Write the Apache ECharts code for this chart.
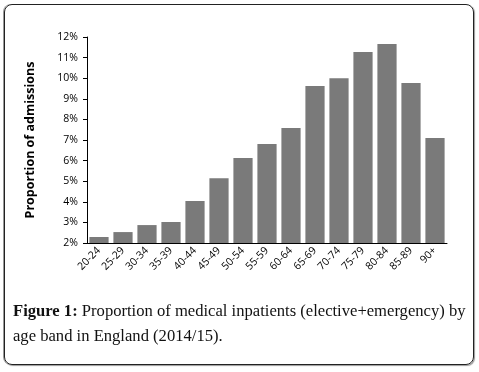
<!DOCTYPE html>
<html>
<head>
<meta charset="utf-8">
<script src="https://cdn.jsdelivr.net/npm/echarts@6/dist/echarts.min.js"></script>
<style>
    html, body { margin: 0; padding: 0; background: #fff; }
    #frame {
        position: absolute; left: 4px; top: 4px; width: 468px; height: 359px;
        border: 1px solid #222; border-radius: 8px;
        box-shadow: -1px 0 0 #999, 1px 1px 1px #999;
    }
    #mainChart { position: absolute; left: 0; top: 0; width: 479px; height: 372px; }
    #caption {
        position: absolute; left: 13px; top: 298px; width: 462px;
        font-family: "Liberation Serif", serif; font-size: 16.6px; line-height: 25px; color: #111;
    }
</style>
</head>
<body>
<div id="frame"></div>
<div id="mainChart"></div>
<div id="caption"><b>Figure 1:</b> Proportion of medical inpatients (elective+emergency) by age band in England (2014/15).</div>
<script>
// 年龄段
var ageBands = ['20-24', '25-29', '30-34', '35-39', '40-44', '45-49', '50-54', '55-59',
    '60-64', '65-69', '70-74', '75-79', '80-84', '85-89', '90+'];
// 占比 (%)
var admissionPct = [2.29, 2.53, 2.87, 3.02, 4.04, 5.14, 6.13, 6.80, 7.58, 9.62, 10.00, 11.27, 11.66, 9.77, 7.10];
var yTicks = [2, 3, 4, 5, 6, 7, 8, 9, 10, 11, 12];

var chartMain = echarts.init(document.getElementById('mainChart'));
var optionMain = {
    animation: false,
    grid: { left: 87, right: 32, top: 37, bottom: 129 },
    xAxis: {
        type: 'category',
        data: ageBands,
        axisLine: { lineStyle: { color: '#000', width: 1 } },
        axisTick: { show: false },
        axisLabel: {
            rotate: 45, interval: 0, margin: 6,
            fontFamily: 'Open Sans', fontSize: 10.5, color: '#000'
        }
    },
    yAxis: {
        type: 'value',
        min: yTicks[0],
        max: yTicks[yTicks.length - 1],
        interval: 1,
        name: 'Proportion of admissions',
        nameLocation: 'middle',
        nameGap: 50,
        nameTextStyle: { fontFamily: 'Open Sans', fontWeight: 'bold', fontSize: 12.5, color: '#000' },
        axisLine: { show: true, lineStyle: { color: '#000', width: 1 } },
        axisTick: { show: true, length: 4, lineStyle: { color: '#000' } },
        splitLine: { show: false },
        axisLabel: {
            margin: 9,
            fontFamily: 'Open Sans', fontSize: 10.5, color: '#000',
            formatter: function (v) { return v + '%'; }
        }
    },
    series: [
        {
            type: 'bar',
            data: admissionPct,
            barCategoryGap: '20%',
            itemStyle: { color: '#7a7a7a' }
        }
    ]
};
chartMain.setOption(optionMain);
</script>
</body>
</html>
